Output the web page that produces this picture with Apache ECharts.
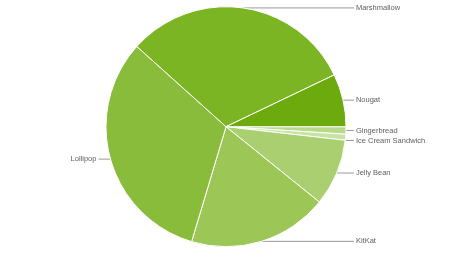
<!DOCTYPE html>
<html>
<head>
<meta charset="utf-8">
<script src="https://cdn.jsdelivr.net/npm/echarts@6/dist/echarts.min.js"></script>
<style>
html,body{margin:0;padding:0;background:#fff;}
#chart{width:450px;height:253px;}
</style>
</head>
<body>
<div id="chart"></div>
<script>
var categories = ['Gingerbread', 'Ice Cream Sandwich', 'Jelly Bean', 'KitKat', 'Lollipop', 'Marshmallow', 'Nougat'];
var shares = [1.0, 0.8, 9.0, 18.8, 32.0, 31.2, 7.1];
var colors = ['#b8d98a', '#c7e2a3', '#aacf70', '#9cc656', '#8abc3b', '#7cb524', '#6daa0d'];

var chart = echarts.init(document.getElementById('chart'), null, {renderer: 'canvas'});
var data = categories.map(function (c, i) {
  var d = {name: c, value: shares[i], itemStyle: {color: colors[i]}};
  if (c === 'Lollipop') { d.labelLine = {length2: 12}; }
  return d;
});
chart.setOption({
  animation: false,
  textStyle: {fontFamily: 'Arial, "Liberation Sans", sans-serif'},
  series: [{
    type: 'pie',
    center: [226, 126.7],
    radius: 120,
    startAngle: 0,
    clockwise: true,
    data: data,
    itemStyle: {borderColor: '#ffffff', borderWidth: 1},
    label: {
      show: true,
      formatter: '{b}',
      color: '#606060',
      fontSize: 7.5,
      fontFamily: 'Arial, "Liberation Sans", sans-serif',
      alignTo: 'labelLine',
      distanceToLabelLine: 2,
      bleedMargin: 2
    },
    labelLine: {
      show: true,
      length: 0,
      length2: 8,
      smooth: false,
      lineStyle: {color: '#999999', width: 1}
    },
    emphasis: {disabled: true}
  }]
});
</script>
</body>
</html>
